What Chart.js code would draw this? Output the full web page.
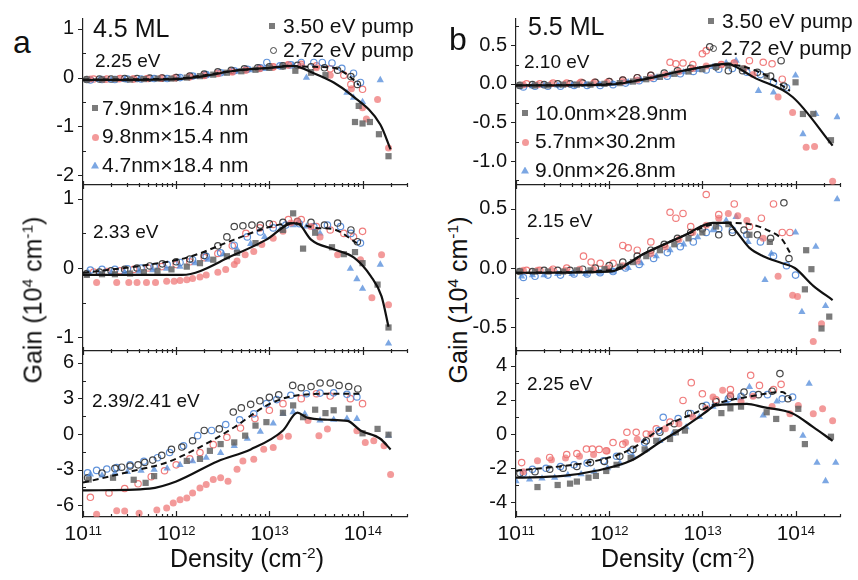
<!DOCTYPE html>
<html>
<head>
<meta charset="utf-8">
<script src="https://cdn.jsdelivr.net/npm/chart.js@4.4.1/dist/chart.umd.min.js"></script>
<style>
  body { margin: 0; background: #fff; }
  #page { position: relative; width: 858px; height: 580px; overflow: hidden; font-family: "Liberation Sans", Arial, sans-serif; color: #111; }
  canvas { position: absolute; }
  .t { position: absolute; line-height: 1; white-space: nowrap; z-index: 2; }
  .t sup { font-size: 0.62em; vertical-align: 0.55em; line-height: 0; }
  .m { position: absolute; z-index: 2; }
</style>
</head>
<body>
<div id="page"></div>
<script>
// ---- 4.5 ML, 2.25 eV probe ----
const a1SqN = [1.1e11,1.6e11,2.2e11,3.2e11,4.5e11,6.3e11,8.9e11,1.3e12,1.8e12,2.5e12,3.5e12,5e12,7.1e12,1e13,1.4e13,1.9e13,2.8e13,4e13,8.3e13,9.1e13,1e14,1.2e14,1.5e14,1.9e14];
const a1SqG = [-0.04,-0.04,-0.03,-0.04,-0.03,-0.02,-0.02,0.0,0.03,0.06,0.1,0.13,0.16,0.2,0.23,0.14,0.1,0.05,-0.91,-0.58,-0.94,-0.91,-1.16,-1.61];
const a1CiN = [1.2e11,1.7e11,2.4e11,3.4e11,4.8e11,6.8e11,9.5e11,1.4e12,2e12,2.8e12,4e12,5.6e12,7.9e12,1.1e13,1.6e13,2.2e13,3.2e13,4.5e13,7.6e13,1e14,1.1e14,1.45e14,1.9e14];
const a1CiG = [-0.03,-0.04,-0.03,-0.03,-0.02,-0.02,-0.01,0.01,0.04,0.08,0.11,0.15,0.18,0.21,0.26,0.24,0.2,0.05,-0.23,-0.62,-0.85,-0.45,-1.44];
const a1TrN = [1.15e11,1.5e11,2e11,2.8e11,4e11,5.6e11,7.9e11,1.1e12,1.6e12,2.2e12,3.2e12,4.5e12,6.3e12,8.9e12,1.3e13,1.8e13,2.5e13,6.8e13,8e13,1e14,1.55e14];
const a1TrG = [-0.05,-0.04,-0.05,-0.04,-0.04,-0.03,-0.03,-0.01,0.02,0.05,0.09,0.12,0.15,0.18,0.22,0.25,0.0,-0.31,-0.41,-0.5,-0.05];
const a1OkN = [1.1e11,1.5e11,2e11,2.8e11,3.8e11,5.2e11,7.1e11,1e12,1.4e12,2e12,2.8e12,3.9e12,5.4e12,7.5e12,1e13,1.4e13,2e13,2.8e13,3.9e13,5.4e13,7.5e13,8.8e13];
const a1OkG = [-0.04,-0.03,-0.03,-0.02,-0.02,-0.01,-0.01,0.0,0.03,0.07,0.12,0.15,0.18,0.2,0.22,0.24,0.25,0.22,0.2,0.15,0.02,-0.14];
const a1ObN = [1.2e11,1.6e11,2.2e11,3e11,4.2e11,5.8e11,8e11,1.1e12,1.5e12,2.1e12,3e12,4.2e12,5.8e12,8e12,9.4e12,1.3e13,1.7e13,2.2e13,3e13,3.7e13,4.7e13,6e13,8e13,9.5e13];
const a1ObG = [-0.05,-0.04,-0.04,-0.03,-0.03,-0.02,-0.02,0.0,0.03,0.06,0.1,0.14,0.17,0.2,0.31,0.24,0.26,0.31,0.31,0.31,0.3,0.19,0.09,-0.1];
const a1OpN = [1.3e11,1.8e11,2.5e11,3.5e11,5e11,7e11,1e12,1.4e12,2e12,2.8e12,4e12,5.6e12,7.9e12,1.1e13,1.6e13,2.2e13,3.2e13,4.5e13,6.3e13,7.5e13,1e14];
const a1OpG = [-0.03,-0.03,-0.02,-0.03,-0.02,-0.01,0.0,0.02,0.05,0.09,0.13,0.16,0.19,0.22,0.26,0.27,0.24,0.18,0.05,-0.14,-0.24];
const a1SolN = [1e11,1e12,2e12,4.2e12,1e13,1.8e13,3e13,4.9e13,7.4e13,1.55e14,2e14];
const a1SolG = [-0.05,-0.03,0.03,0.14,0.2,0.24,0.09,-0.1,-0.34,-0.96,-1.47];
const a1DashN = [1e11,1e12,2e12,4.2e12,1e13,1.6e13,3e13,4.9e13,7e13,9.1e13];
const a1DashG = [-0.04,-0.02,0.05,0.14,0.2,0.24,0.22,0.2,0.05,-0.15];

// ---- 4.5 ML, 2.33 eV ----
const a2SqN = [1.1e11,1.6e11,2.2e11,3.2e11,4.5e11,6.3e11,8.9e11,1.3e12,1.8e12,2.5e12,3.5e12,4.5e12,7.1e12,1.4e13,1.8e13,2.3e13,3.1e13,4.7e13,6.3e13,8.3e13,1e14,1.45e14,1.9e14];
const a2SqG = [-0.1,-0.09,-0.09,-0.08,-0.06,-0.04,-0.02,0.02,0.07,0.12,0.17,0.22,0.36,0.55,0.79,0.28,0.51,0.3,0.2,0.23,0.07,-0.24,-0.86];
const a2CiN = [1.4e11,2.3e11,3.1e11,3.8e11,4.8e11,6e11,7.9e11,9.5e11,1.1e12,1.3e12,1.5e12,1.8e12,2.1e12,2.8e12,3.4e12,4.2e12,4.5e12,5.5e12,6.8e12,8.3e12,1.1e13,1.4e13,1.7e13,2e13,2.8e13,3.5e13,5.4e13,9.5e13,1.26e14,1.6e14,1.9e14];
const a2CiG = [-0.21,-0.21,-0.21,-0.21,-0.21,-0.21,-0.19,-0.19,-0.18,-0.17,-0.15,-0.13,-0.1,-0.06,-0.02,0.05,0.1,0.19,0.24,0.34,0.43,0.53,0.65,0.68,0.6,0.45,0.19,0.12,-0.43,0.19,-0.53];
const a2TrN = [1.15e11,1.5e11,2e11,2.8e11,4e11,5.6e11,7.9e11,1.1e12,1.6e12,2.2e12,3.2e12,4.5e12,6.3e12,8.9e12,1.3e13,1.8e13,2.5e13,3.5e13,7.4e13,8.7e13,1e14,1.55e14,1.9e14];
const a2TrG = [-0.07,-0.08,-0.07,-0.06,-0.05,-0.03,-0.01,0.02,0.07,0.12,0.2,0.27,0.35,0.45,0.55,0.62,0.6,0.5,-0.01,-0.16,-0.3,0.05,-1.09];
const a2OkN = [1.1e11,1.5e11,2e11,2.8e11,3.8e11,5.2e11,7.1e11,1e12,1.4e12,2e12,2.8e12,3.5e12,4.2e12,5.2e12,6.5e12,8e12,1e13,1.4e13,2e13,2.8e13,3.9e13,5.4e13,7.5e13,8.8e13];
const a2OkG = [-0.08,-0.06,-0.04,-0.02,0.0,0.03,0.06,0.09,0.13,0.18,0.32,0.45,0.6,0.61,0.62,0.62,0.64,0.66,0.67,0.66,0.62,0.65,0.55,0.38];
const a2ObN = [1.2e11,1.6e11,2.2e11,3e11,4.2e11,5.8e11,8e11,1.1e12,1.5e12,2.1e12,3e12,4.2e12,5.8e12,8e12,1.1e13,1.5e13,2.1e13,3e13,4.2e13,5.8e13,7.5e13,9.5e13];
const a2ObG = [-0.03,-0.02,-0.02,-0.01,0.0,0.02,0.05,0.08,0.12,0.17,0.22,0.33,0.45,0.52,0.58,0.62,0.64,0.6,0.62,0.6,0.5,0.36];
const a2OpN = [1.3e11,1.8e11,2.5e11,3.5e11,5e11,7e11,1e12,1.4e12,2e12,2.8e12,4e12,5.6e12,7.9e12,1.1e13,1.6e13,2.2e13,3.2e13,4.5e13,6.3e13,8e13,1e14];
const a2OpG = [-0.06,-0.05,-0.04,-0.02,0.0,0.02,0.05,0.09,0.15,0.21,0.32,0.5,0.58,0.63,0.7,0.7,0.6,0.55,0.5,0.45,0.53];
const a2SolN = [1e11,1.15e12,4.2e12,9.3e12,1.8e13,2.1e13,2.8e13,4.9e13,8.1e13,1.23e14,1.6e14,1.9e14];
const a2SolG = [-0.1,-0.1,0.19,0.41,0.65,0.63,0.41,0.27,0.15,-0.12,-0.41,-0.85];
const a2DashN = [1e11,5.2e11,1.3e12,4.2e12,9.3e12,1.8e13,3.2e13,4.9e13,8.7e13];
const a2DashG = [-0.07,0.05,0.15,0.41,0.58,0.65,0.58,0.56,0.36];

// ---- 4.5 ML, 2.39/2.41 eV ----
const a3SqN = [1.15e11,2.1e11,3.5e11,4.7e11,5.8e11,1.3e12,1.8e12,2.3e12,3e12,4.2e12,5.5e12,7.1e12,9.3e12,1.4e13,1.8e13,2.3e13,3.1e13,4e13,4.9e13,7.1e13,1e14,1.45e14,1.9e14];
const a3SqG = [-3.84,-3.69,-3.86,-4.12,-3.55,-2.27,-2.1,-1.42,-0.85,-0.71,-0.14,0.71,1.0,1.79,2.41,1.42,2.05,1.76,2.0,2.13,0.06,0.43,-0.06];
const a3CiN = [1.4e11,2.3e11,2.8e11,4e11,6.2e11,7.9e11,9.3e11,1.1e12,1.3e12,1.5e12,1.8e12,2.1e12,2.5e12,3e12,3.6e12,4.5e12,5.2e12,6.8e12,8.7e12,1.1e13,1.3e13,1.6e13,2.6e13,3.4e13,4.2e13,8.7e13,1.07e14,1.32e14,1.7e14,2e14];
const a3CiG = [-6.76,-6.48,-6.5,-6.68,-6.4,-6.25,-5.82,-5.54,-5.4,-4.97,-4.55,-4.26,-3.84,-3.7,-3.98,-2.98,-2.27,-2.13,-1.28,-1.14,-0.23,-0.2,1.14,-0.14,0.43,0.28,-0.71,-0.57,-1.0,-3.41];
const a3TrN = [1.2e11,1.6e11,2.2e11,3e11,4.2e11,5.8e11,8e11,1.1e12,1.5e12,2.1e12,3e12,4.2e12,5.8e12,8e12,1.1e13,1.4e13,1.8e13,2.4e13,3.5e13,4.9e13,6.8e13,8.7e13,1.9e14];
const a3TrG = [-3.4,-3.5,-3.3,-3.2,-3.1,-3.0,-2.9,-2.6,-2.3,-2.0,-1.6,-1.0,-0.4,0.2,0.9,1.7,1.85,1.7,1.14,1.2,1.3,1.28,-0.14];
const a3OkN = [1.12e11,1.6e11,2.2e11,2.6e11,3.2e11,3.9e11,4.6e11,5.6e11,7e11,8.9e11,1.15e12,1.5e12,2e12,2.9e12,4.1e12,5e12,6.3e12,7.9e12,1e13,1.26e13,1.78e13,2.2e13,2.8e13,3.5e13,4.5e13,5.6e13,7.1e13,8.9e13];
const a3OkG = [-3.7,-3.3,-2.9,-2.8,-2.7,-2.6,-2.4,-2.2,-1.8,-1.3,-1.1,-0.57,0.3,0.43,1.85,2.2,2.5,2.8,3.1,3.3,4.1,3.9,4.0,4.3,4.3,4.1,4.0,3.8];
const a3ObN = [1.12e11,1.4e11,1.8e11,2.3e11,3.2e11,4.5e11,6.3e11,8.5e11,1.2e12,1.7e12,2.4e12,3.4e12,4.8e12,6.8e12,9.3e12,1.2e13,1.7e13,2.5e13,3.5e13,4.9e13,6.8e13,8.7e13];
const a3ObG = [-3.27,-3.07,-2.95,-2.84,-2.6,-2.3,-2.0,-1.56,-1.0,-0.14,0.3,0.8,1.2,1.7,2.56,2.9,3.27,3.4,3.45,3.47,3.35,3.12];
const a3OpN = [1.2e11,1.9e11,2.8e11,3.9e11,5.4e11,7.5e11,1e12,1.4e12,1.8e12,2.5e12,3.5e12,4.9e12,7e12,1e13,1.4e13,2.2e13,3.2e13,4.5e13,7.4e13,1e14];
const a3OpG = [-5.34,-4.97,-4.6,-4.2,-3.6,-3.1,-2.6,-2.1,-1.56,-0.9,-0.28,0.5,1.3,2.0,2.56,2.98,3.4,3.2,2.98,2.56];
const a3SolN = [1e11,5.2e11,1e12,2.8e12,6.3e12,1.4e13,2e13,2.5e13,4.2e13,6.9e13,9.5e13,1.55e14,2e14];
const a3SolG = [-4.76,-4.6,-4.0,-2.3,-1.3,0.3,1.8,1.4,1.2,1.1,0.3,-0.4,-1.3];
const a3DashN = [1e11,3.5e11,7.9e11,1.8e12,4.2e12,9.3e12,1.8e13,4.9e13,9.5e13];
const a3DashG = [-4.1,-3.1,-2.4,-1.1,0.57,2.4,3.2,3.4,3.4];

// ---- 5.5 ML, 2.10 eV ----
const b1SqN = [1.1e11,1.6e11,2.2e11,3.2e11,4.5e11,6.3e11,8.9e11,1.3e12,1.8e12,2.5e12,3.5e12,5e12,7.1e12,1e13,1.4e13,1.9e13,2.7e13,4.9e13,1e14,1.2e14,1.55e14,2.4e14];
const b1SqG = [-0.02,-0.02,-0.02,-0.01,-0.01,-0.01,0.0,0.01,0.03,0.06,0.09,0.13,0.16,0.19,0.22,0.24,0.2,0.1,0.02,-0.39,-0.39,-0.73];
const b1CiN = [1.2e11,1.7e11,2.4e11,3.4e11,4.8e11,6.8e11,9.5e11,1.4e12,2e12,2.8e12,4e12,5.6e12,7.9e12,1.1e13,1.6e13,2.2e13,2.8e13,3.5e13,6.5e13,9.3e13,1.3e14,1.6e14,2.5e14];
const b1CiG = [-0.01,-0.01,0.0,0.0,0.01,0.01,0.02,0.03,0.05,0.08,0.12,0.16,0.2,0.23,0.25,0.27,0.2,0.12,-0.17,-0.37,-0.82,-0.81,-1.26];
const b1TrN = [1.15e11,1.5e11,2e11,2.8e11,4e11,5.6e11,7.9e11,1.1e12,1.6e12,2.2e12,3.2e12,4.5e12,6.3e12,8.9e12,1.3e13,1.8e13,2.3e13,4e13,5.8e13,1e14,1.2e14,1.65e14,2.8e14];
const b1TrG = [-0.03,-0.03,-0.02,-0.02,-0.02,-0.01,-0.01,0.0,0.02,0.05,0.08,0.12,0.15,0.18,0.22,0.27,0.3,-0.09,-0.11,0.11,-0.65,-0.39,-0.43];
const b1OkN = [1.1e11,1.5e11,2e11,2.8e11,3.8e11,5.2e11,7.1e11,1e12,1.4e12,2e12,2.8e12,3.9e12,5.4e12,7.5e12,1.2e13,1.4e13,1.9e13,2.7e13,3.9e13,5.4e13,7e13,7.5e13];
const b1OkG = [-0.02,-0.01,-0.01,0.0,0.0,0.01,0.02,0.03,0.05,0.08,0.11,0.14,0.17,0.2,0.48,0.22,0.17,0.17,0.15,0.1,0.3,-0.03];
const b1ObN = [1.2e11,1.6e11,2.2e11,3e11,4.2e11,5.8e11,8e11,1.1e12,1.5e12,2.1e12,3e12,4.2e12,5.8e12,8e12,1.1e13,1.5e13,2.1e13,3e13,4.2e13,5.8e13,8e13];
const b1ObG = [-0.04,-0.03,-0.03,-0.03,-0.02,-0.02,-0.02,-0.01,0.01,0.04,0.07,0.1,0.13,0.16,0.18,0.19,0.2,0.15,0.12,0.02,-0.05];
const b1OpN = [1.3e11,1.8e11,2.5e11,3.5e11,5e11,7e11,1e12,1.4e12,2e12,2.8e12,4.5e12,5.2e12,6.2e12,7.9e12,1e13,1.1e13,1.6e13,2.2e13,3.2e13,4.5e13,5.6e13,7.2e13];
const b1OpG = [0.0,0.0,0.01,0.01,0.02,0.02,0.03,0.05,0.08,0.11,0.28,0.26,0.27,0.25,0.39,0.43,0.25,0.27,0.3,0.28,0.26,0.06];
const b1SolN = [1e11,1e12,2.5e12,6.2e12,1.9e13,2.3e13,3.5e13,9.3e13,2.5e14];
const b1SolG = [-0.02,-0.01,0.065,0.17,0.26,0.22,0.09,-0.17,-0.8];
const b1DashN = [1e11,1e12,2.5e12,6.2e12,1.9e13,4.5e13,8.7e13];
const b1DashG = [-0.02,0.0,0.07,0.17,0.25,0.13,-0.09];

// ---- 5.5 ML, 2.15 eV ----
const b2SqN = [1.1e11,1.6e11,2.2e11,3.2e11,4.5e11,6.3e11,8.9e11,1.3e12,1.8e12,2.5e12,3.5e12,5e12,7.1e12,1e13,1.4e13,1.9e13,3.2e13,5.3e13,1.26e14,1.3e14,1.48e14,1.9e14,2.3e14];
const b2SqG = [-0.03,-0.03,-0.03,-0.03,-0.02,-0.02,-0.01,0.01,0.05,0.1,0.15,0.2,0.25,0.3,0.35,0.37,0.28,0.22,-0.18,0.15,-0.01,-0.51,-0.41];
const b2CiN = [1.2e11,1.7e11,2.4e11,3.4e11,4.8e11,6.8e11,9.5e11,1.4e12,2e12,2.8e12,4e12,5.6e12,7.9e12,1.1e13,1.5e13,1.9e13,2.4e13,3e13,4.5e13,6.5e13,9.3e13,1.05e14,1.55e14,1.9e14];
const b2CiG = [-0.02,-0.02,-0.02,-0.02,-0.01,-0.01,0.0,0.02,0.06,0.12,0.18,0.24,0.3,0.36,0.42,0.46,0.44,0.4,0.25,-0.07,-0.23,-0.24,-0.62,-0.47];
const b2TrN = [1.15e11,1.5e11,2e11,2.8e11,4e11,5.6e11,7.9e11,1.1e12,1.6e12,2.2e12,3.2e12,4.5e12,6.3e12,8.9e12,1.3e13,1.8e13,2.3e13,3.1e13,4.7e13,5.5e13,1e14,1.17e14,1.65e14,2.1e14,2.8e14];
const b2TrG = [-0.07,-0.06,-0.06,-0.05,-0.05,-0.05,-0.04,-0.03,0.0,0.04,0.1,0.15,0.2,0.26,0.32,0.4,0.43,0.22,-0.1,0.12,0.3,-0.37,0.18,-0.32,0.58];
const b2OkN = [1.1e11,1.5e11,2e11,2.8e11,3.8e11,5.2e11,7.1e11,1e12,1.4e12,2e12,2.8e12,3.9e12,5.4e12,7.5e12,1e13,1.5e13,2.1e13,2.8e13,3.9e13,5.4e13,7.5e13,8.5e13];
const b2OkG = [-0.03,-0.03,-0.02,-0.02,-0.02,-0.01,0.0,0.02,0.05,0.1,0.15,0.2,0.25,0.3,0.33,0.28,0.3,0.32,0.28,0.25,0.55,0.08];
const b2ObN = [1.2e11,1.6e11,2.2e11,3e11,4.2e11,5.8e11,8e11,1.1e12,1.5e12,2.1e12,3e12,4.2e12,5.8e12,8e12,1.1e13,1.5e13,2.1e13,3e13,4.2e13,5.8e13,8e13,1e14];
const b2ObG = [-0.08,-0.07,-0.06,-0.06,-0.05,-0.05,-0.04,-0.03,0.0,0.03,0.08,0.13,0.18,0.22,0.3,0.33,0.32,0.28,0.22,0.1,0.02,-0.06];
const b2OpN = [1.3e11,1.8e11,2.5e11,3.5e11,5.3e11,6.4e11,8e11,1.1e12,1.4e12,1.6e12,2e12,2.8e12,4.5e12,5.2e12,6.2e12,7.5e12,1.1e13,1.5e13,2.2e13,3.2e13,4.3e13,5.8e13,7.2e13,8.7e13];
const b2OpG = [-0.02,-0.02,-0.01,0.0,0.1,0.05,0.04,0.04,0.19,0.17,0.15,0.22,0.47,0.42,0.46,0.35,0.62,0.45,0.54,0.35,0.42,0.54,0.3,0.3];
const b2SolN = [1e11,1e12,2.5e12,6.2e12,1.3e13,1.9e13,2.3e13,3.2e13,4.5e13,7.2e13,9.8e13,1.55e14,2.5e14];
const b2SolG = [-0.04,-0.03,0.13,0.27,0.38,0.38,0.31,0.17,0.1,0.04,0.0,-0.15,-0.27];
const b2DashN = [1e11,1e12,2.5e12,6.2e12,1.3e13,1.9e13,3.2e13,5.3e13,7.2e13,8.7e13];
const b2DashG = [-0.04,-0.02,0.13,0.27,0.37,0.38,0.37,0.31,0.24,0.13];

// ---- 5.5 ML, 2.25 eV ----
const b3SqN = [1.7e11,2.8e11,3.8e11,4.5e11,6e11,7.2e11,9.3e11,1.2e12,1.7e12,2.4e12,3.2e12,4.5e12,5.2e12,6.5e12,1.6e13,2e13,2.6e13,4.9e13,6.2e13,9.3e13,1.07e14,1.26e14,2.4e14];
const b3SqG = [-3.1,-2.98,-2.9,-2.78,-2.55,-2.45,-2.16,-1.8,-1.4,-0.9,-0.4,-0.29,0.1,0.2,1.22,1.5,1.6,1.27,0.88,0.35,1.47,-0.59,-0.16];
const b3CiN = [1.2e11,1.7e11,2.4e11,3.4e11,4.8e11,6.8e11,9.5e11,1.5e12,2e12,2.8e12,4e12,5.6e12,7.9e12,1.1e13,1.3e13,1.65e13,2e13,2.6e13,3.5e13,5.6e13,8.7e13,1.07e14,1.55e14,1.95e14,2.5e14];
const b3CiG = [-2.2,-1.57,-1.5,-1.4,-1.3,-1.2,-1.0,-0.49,-0.3,0.0,0.3,0.6,1.0,1.5,2.16,2.55,2.3,1.9,2.2,1.6,1.18,1.67,1.18,1.47,0.78];
const b3TrN = [1e11,1.4e11,1.9e11,2.6e11,3.6e11,5e11,6.9e11,9.6e11,1.3e12,1.8e12,2.5e12,3.5e12,4.8e12,6.7e12,9.3e12,1.3e13,1.8e13,2.5e13,3.2e13,4.5e13,6.3e13,1.2e14,1.4e14,1.7e14,2.1e14,2.7e14];
const b3TrG = [-2.75,-2.65,-2.6,-2.55,-2.4,-2.35,-2.2,-2.0,-1.7,-1.3,-0.9,-0.4,0.0,0.4,1.0,1.6,1.9,2.1,2.75,1.08,1.9,-0.1,2.94,-1.67,-2.75,-1.67];
const b3OkN = [1.1e11,1.6e11,2.3e11,3.2e11,4.5e11,6.3e11,8.9e11,1.3e12,1.8e12,2.5e12,3.5e12,5e12,7.1e12,1e13,1.4e13,2e13,2.8e13,4e13,5.6e13,6.8e13,8.3e13];
const b3OkG = [-2.3,-2.2,-2.06,-2.0,-1.9,-1.67,-1.6,-1.3,-0.9,-0.4,0.1,0.6,1.2,1.6,1.9,2.2,2.45,2.3,2.5,3.53,2.06];
const b3ObN = [1.2e11,1.5e11,2.1e11,3e11,4.2e11,5.8e11,8.7e11,1.2e12,1.7e12,2.4e12,3.4e12,3.8e12,5.5e12,7.5e12,1.1e13,1.9e13,2.6e13,3.5e13,5e13,7.2e13,9.3e13];
const b3ObG = [-2.3,-2.06,-2.0,-1.9,-1.8,-1.7,-1.57,-1.3,-1.0,-0.5,0.2,0.98,0.9,1.2,1.67,2.06,2.2,2.3,2.3,2.06,2.16];
const b3OpN = [1.15e11,2.3e11,3.5e11,4.5e11,5.7e11,6.6e11,7.8e11,9.3e11,1.1e12,1.4e12,1.55e12,1.95e12,2.5e12,3.2e12,4.5e12,6.2e12,7.6e12,1e13,1.4e13,2e13,3.3e13,4.1e13,5.8e13,7e13];
const b3OpG = [-1.67,-1.37,-1.2,-1.14,-0.88,-0.88,-0.9,-0.98,-0.5,-0.6,0.1,0.1,0.0,0.3,0.7,1.96,3.0,2.35,2.0,2.6,3.43,2.84,2.6,2.9];
const b3SolN = [1e11,3.2e11,7.2e11,1.7e12,3.8e12,6.2e12,8.7e12,1.1e13,1.4e13,3e13,4.5e13,9.3e13,1.55e14,2.5e14];
const b3SolG = [-2.55,-2.45,-2.15,-1.57,-0.35,0.35,0.9,1.3,1.67,1.76,1.57,1.2,0.4,-0.4];
const b3DashN = [1e11,7.2e11,1.7e12,3.8e12,8.7e12,1.4e13,3e13,7.2e13,8.9e13];
const b3DashG = [-2.15,-1.57,-0.9,0.4,1.27,1.76,2.16,2.45,2.06];

const xMin = 1e11, xMax = 3e14;
const FONT = '"Liberation Sans", Arial, sans-serif';

// panel layout (page pixels)
const colAxisX = [83, 516];
const rowTop = [19, 185, 351];
const PW = 324, PH = 166, YW = 43, PADT = 8, PADR = 16;

const panels = [
  { col: 0, row: 0, min: -2.2, max: 1.2, step: 1, dec: 0,
    sq: [a1SqN, a1SqG], ci: [a1CiN, a1CiG], tr: [a1TrN, a1TrG], ok: [a1OkN, a1OkG], ob: [a1ObN, a1ObG], op: [a1OpN, a1OpG],
    sol: [a1SolN, a1SolG], dash: [a1DashN, a1DashG] },
  { col: 0, row: 1, min: -1.2, max: 1.2, step: 1, dec: 0,
    sq: [a2SqN, a2SqG], ci: [a2CiN, a2CiG], tr: [a2TrN, a2TrG], ok: [a2OkN, a2OkG], ob: [a2ObN, a2ObG], op: [a2OpN, a2OpG],
    sol: [a2SolN, a2SolG], dash: [a2DashN, a2DashG] },
  { col: 0, row: 2, min: -7, max: 7, step: 3, dec: 0,
    sq: [a3SqN, a3SqG], ci: [a3CiN, a3CiG], tr: [a3TrN, a3TrG], ok: [a3OkN, a3OkG], ob: [a3ObN, a3ObG], op: [a3OpN, a3OpG],
    sol: [a3SolN, a3SolG], dash: [a3DashN, a3DashG] },
  { col: 1, row: 0, min: -1.31, max: 0.84, step: 0.5, dec: 1,
    sq: [b1SqN, b1SqG], ci: [b1CiN, b1CiG], tr: [b1TrN, b1TrG], ok: [b1OkN, b1OkG], ob: [b1ObN, b1ObG], op: [b1OpN, b1OpG],
    sol: [b1SolN, b1SolG], dash: [b1DashN, b1DashG] },
  { col: 1, row: 1, min: -0.7, max: 0.7, step: 0.5, dec: 1,
    sq: [b2SqN, b2SqG], ci: [b2CiN, b2CiG], tr: [b2TrN, b2TrG], ok: [b2OkN, b2OkG], ob: [b2ObN, b2ObG], op: [b2OpN, b2OpG],
    sol: [b2SolN, b2SolG], dash: [b2DashN, b2DashG] },
  { col: 1, row: 2, min: -4.85, max: 4.85, step: 2, dec: 0,
    sq: [b3SqN, b3SqG], ci: [b3CiN, b3CiG], tr: [b3TrN, b3TrG], ok: [b3OkN, b3OkG], ob: [b3ObN, b3ObG], op: [b3OpN, b3OpG],
    sol: [b3SolN, b3SolG], dash: [b3DashN, b3DashG] }
];

const look = {
  sq: { pointStyle: 'rect', pointRadius: 4.4, backgroundColor: 'rgba(100,100,100,0.85)', borderWidth: 0 },
  ci: { pointStyle: 'circle', pointRadius: 3.5, backgroundColor: 'rgba(238,115,115,0.72)', borderWidth: 0 },
  tr: { pointStyle: 'triangle', pointRadius: 4.2, backgroundColor: 'rgba(80,138,218,0.75)', borderWidth: 0 },
  ok: { pointStyle: 'circle', pointRadius: 3.2, backgroundColor: 'rgba(0,0,0,0)', borderColor: 'rgba(50,50,50,0.9)', borderWidth: 1.2 },
  ob: { pointStyle: 'circle', pointRadius: 3.2, backgroundColor: 'rgba(0,0,0,0)', borderColor: 'rgba(80,135,215,0.9)', borderWidth: 1.2 },
  op: { pointStyle: 'circle', pointRadius: 3.2, backgroundColor: 'rgba(0,0,0,0)', borderColor: 'rgba(238,110,110,0.9)', borderWidth: 1.2 }
};

const mk = (n, g) => n.map((v, i) => ({ x: v, y: g[i] }));

// tick marks and decade labels, placed through the chart's scales
const axisMarks = {
  id: 'axisMarks',
  afterDraw(chart, args, opts) {
    const { ctx, chartArea: a, scales: { x, y } } = chart;
    ctx.save();
    ctx.strokeStyle = '#222';
    ctx.lineWidth = 1.2;
    ctx.beginPath();
    for (let e = 11; e <= 14; e++) {
      for (let m = 1; m <= 9; m++) {
        const v = m * Math.pow(10, e);
        if (v > x.max * 1.001) break;
        const px = Math.round(x.getPixelForValue(v)) + 0.5;
        const big = m === 1;
        const up = opts.bottom ? (big ? 6 : 3) : (big ? 4 : 2);
        const down = opts.bottom ? 0 : up;
        ctx.moveTo(px, a.bottom - up);
        ctx.lineTo(px, a.bottom + down);
      }
    }
    const vals = y.ticks.map(t => t.value);
    vals.forEach(v => {
      const py = Math.round(y.getPixelForValue(v)) + 0.5;
      ctx.moveTo(a.left - 5, py);
      ctx.lineTo(a.left, py);
    });
    for (let v = vals[0] - opts.step / 2; v < y.max; v += opts.step) {
      if (v <= y.min) continue;
      const py = Math.round(y.getPixelForValue(v)) + 0.5;
      ctx.moveTo(a.left, py);
      ctx.lineTo(a.left + 3, py);
    }
    ctx.stroke();

    if (opts.bottom) {
      ctx.fillStyle = '#111';
      ctx.textBaseline = 'alphabetic';
      for (let e = 11; e <= 14; e++) {
        const px = x.getPixelForValue(Math.pow(10, e));
        ctx.font = '21px ' + FONT;
        const w1 = ctx.measureText('10').width;
        ctx.font = '13px ' + FONT;
        const w2 = ctx.measureText(String(e)).width;
        const left = px - (w1 + w2) / 2;
        ctx.font = '21px ' + FONT;
        ctx.fillText('10', left, a.bottom + 23);
        ctx.font = '13px ' + FONT;
        ctx.fillText(String(e), left + w1 + 0.5, a.bottom + 18);
      }
    }
    ctx.restore();
  }
};

const page = document.getElementById('page');

panels.forEach(p => {
  const bottomPad = p.row === 2 ? 36 : 10;
  const cv = document.createElement('canvas');
  const W = YW + PW + PADR, H = PADT + PH + bottomPad;
  cv.width = W; cv.height = H;
  cv.style.width = W + 'px'; cv.style.height = H + 'px';
  cv.style.left = (colAxisX[p.col] - YW) + 'px';
  cv.style.top = (rowTop[p.row] - PADT) + 'px';
  page.appendChild(cv);

  const pointSets = ['sq', 'ci', 'tr', 'ok', 'ob', 'op'].map(k => Object.assign({ data: mk(p[k][0], p[k][1]) }, look[k]));

  new Chart(cv.getContext('2d'), {
    type: 'scatter',
    data: {
      datasets: [
        { data: mk(p.sol[0], p.sol[1]), showLine: true, pointRadius: 0, borderColor: '#111', borderWidth: 2.2, cubicInterpolationMode: 'monotone' },
        { data: mk(p.dash[0], p.dash[1]), showLine: true, pointRadius: 0, borderColor: '#111', borderWidth: 2, borderDash: [6, 4], cubicInterpolationMode: 'monotone' },
        ...pointSets
      ]
    },
    options: {
      responsive: false,
      animation: false,
      events: [],
      layout: { padding: { top: PADT, right: PADR, left: 0, bottom: 0 } },
      plugins: {
        legend: { display: false },
        tooltip: { enabled: false },
        axisMarks: { bottom: p.row === 2, step: p.step }
      },
      scales: {
        x: {
          type: 'logarithmic', min: xMin, max: xMax,
          grid: { display: false, drawTicks: false },
          border: { display: true, color: '#222', width: 1.2 },
          ticks: { display: false },
          afterFit: s => { s.height = bottomPad; s.paddingLeft = 0; s.paddingRight = 0; }
        },
        y: {
          min: p.min, max: p.max,
          grid: { display: false, drawTicks: false },
          border: { display: true, color: '#222', width: 1.2 },
          ticks: {
            stepSize: p.step, includeBounds: false, padding: 9, color: '#111',
            font: { family: FONT, size: 20 },
            callback: v => p.dec ? Number(v).toFixed(p.dec) : String(Math.round(v))
          },
          afterFit: s => { s.width = YW; s.paddingTop = 0; s.paddingBottom = 0; }
        }
      }
    },
    plugins: [axisMarks]
  });
});

// text and legend keys
function txt(html, left, top, size, extra) {
  const d = document.createElement('div');
  d.className = 't';
  d.innerHTML = html;
  d.style.left = left + 'px';
  d.style.top = top + 'px';
  d.style.fontSize = size + 'px';
  if (extra) Object.assign(d.style, extra);
  page.appendChild(d);
}
function key(kind, cx, cy) {
  const d = document.createElement('div');
  d.className = 'm';
  let w = 6, h = 6;
  if (kind === 'sq') { d.style.background = 'rgba(100,100,100,0.85)'; }
  if (kind === 'ci') { w = 7; h = 7; d.style.background = 'rgba(238,115,115,0.72)'; d.style.borderRadius = '50%'; }
  if (kind === 'tr') { w = 8; h = 7; d.style.background = 'rgba(80,138,218,0.75)'; d.style.clipPath = 'polygon(50% 0, 100% 100%, 0 100%)'; }
  if (kind === 'ok') { w = 5; h = 5; d.style.border = '1.2px solid rgba(50,50,50,0.9)'; d.style.borderRadius = '50%'; }
  d.style.width = w + 'px'; d.style.height = h + 'px';
  d.style.left = (cx - w / 2) + 'px'; d.style.top = (cy - h / 2) + 'px';
  page.appendChild(d);
}

txt('a', 13, 26, 32);
txt('4.5 ML', 93, 16, 25);
key('sq', 272, 26); txt('3.50 eV pump', 283, 15, 21);
key('ok', 272, 49); txt('2.72 eV pump', 283, 39, 21);
txt('2.25 eV', 95, 51, 19);
key('sq', 95, 108); txt('7.9nm×16.4 nm', 102, 97, 21);
key('ci', 95, 137); txt('9.8nm×15.4 nm', 102, 125, 21);
key('tr', 95, 165); txt('4.7nm×18.4 nm', 102, 154, 21);
txt('2.33 eV', 93, 222, 19);
txt('2.39/2.41 eV', 92, 391, 19);

txt('b', 449, 23, 32);
txt('5.5 ML', 528, 14, 25);
key('sq', 711, 21); txt('3.50 eV pump', 722, 10, 21);
key('ok', 712, 47); txt('2.72 eV pump', 721, 37, 21);
txt('2.10 eV', 524, 52, 19);
key('sq', 525, 113); txt('10.0nm×28.9nm', 535, 102, 21);
key('ci', 525, 142); txt('5.7nm×30.2nm', 535, 130, 21);
key('tr', 525, 170); txt('9.0nm×26.8nm', 535, 159, 21);
txt('2.15 eV', 527, 211, 19);
txt('2.25 eV', 527, 374, 19);

const yTitle = 'Gain (10<sup>4</sup> cm<sup>-1</sup>)';
txt(yTitle, 33, 300, 25, { transform: 'translate(-50%,-50%) rotate(-90deg)' });
txt(yTitle, 458, 300, 25, { transform: 'translate(-50%,-50%) rotate(-90deg)' });
txt('Density (cm<sup>-2</sup>)', 247, 546, 25, { transform: 'translateX(-50%)' });
txt('Density (cm<sup>-2</sup>)', 678, 546, 25, { transform: 'translateX(-50%)' });
</script>
</body>
</html>
